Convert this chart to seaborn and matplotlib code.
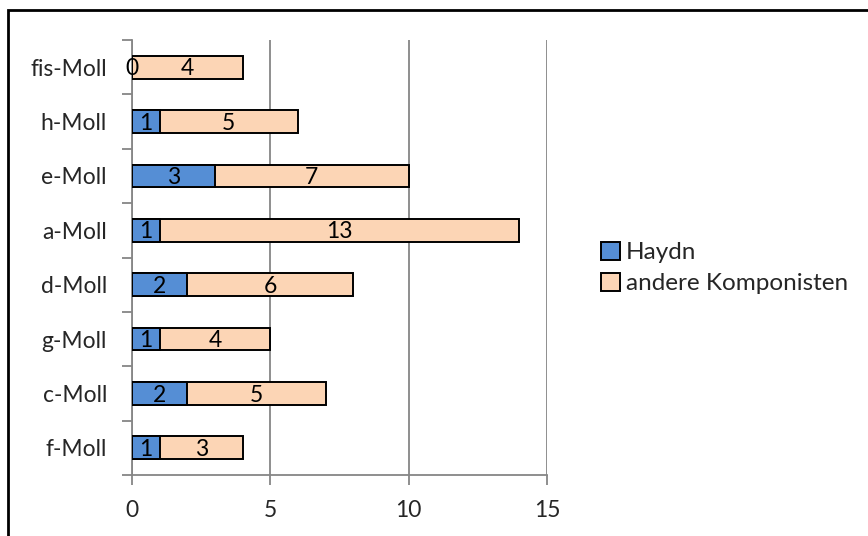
import matplotlib
matplotlib.use("Agg")
import matplotlib.pyplot as plt
from matplotlib.patches import Rectangle, Patch
from matplotlib.ticker import FixedLocator
import numpy as np
import pandas as pd
import seaborn as sns

# Minor keys, listed top to bottom
keys = ["fis-Moll", "h-Moll", "e-Moll", "a-Moll", "d-Moll", "g-Moll", "c-Moll", "f-Moll"]
haydn = [0, 1, 3, 1, 2, 1, 2, 1]
andere = [4, 5, 7, 13, 6, 4, 5, 3]
series_names = ["Haydn", "andere Komponisten"]
x_ticks = [0, 5, 10, 15]

BLUE = "#558ED5"
PEACH = "#FCD5B5"
GRID = "#868686"

sns.set_theme(style="white")
plt.rcParams["font.family"] = ["Lato", "DejaVu Sans"]

df = pd.DataFrame({
    "Tonart": keys,
    "Haydn": haydn,
    "andere": andere,
})
df["gesamt"] = df["Haydn"] + df["andere"]

W, H, DPI = 868, 536, 100
fig = plt.figure(figsize=(W / DPI, H / DPI), dpi=DPI)
ax = fig.add_axes([132 / W, 1 - 475 / H, (547 - 132) / W, (475 - 40) / H])

bar_h = 0.42
sns.barplot(data=df, x="gesamt", y="Tonart", order=keys, color=PEACH,
            edgecolor="black", linewidth=1.4, width=bar_h, saturation=1,
            ax=ax, zorder=3)
sns.barplot(data=df, x="Haydn", y="Tonart", order=keys, color=BLUE,
            edgecolor="black", linewidth=1.4, width=bar_h, saturation=1,
            ax=ax, zorder=4)

# value labels centred in each segment
fs = 16.5
for i, (h, a) in enumerate(zip(haydn, andere)):
    ax.text(h / 2, i + 0.03, str(h), ha="center", va="center", fontsize=fs,
            color="black", zorder=5)
    ax.text(h + a / 2, i + 0.03, str(a), ha="center", va="center", fontsize=fs,
            color="black", zorder=5)

ax.set_xlim(0, 15)
ax.set_ylim(len(keys) - 0.5, -0.5)
ax.set_xlabel("")
ax.set_ylabel("")

ax.xaxis.set_major_locator(FixedLocator(x_ticks))
ax.set_xticklabels([str(t) for t in x_ticks])
ax.grid(axis="x", color=GRID, linewidth=1.3, zorder=0)
ax.grid(axis="y", visible=False)

# category separators as outward ticks on the value axis
ax.yaxis.set_minor_locator(FixedLocator(np.arange(-0.5, len(keys), 1.0)))
ax.tick_params(axis="y", which="major", length=0, labelsize=fs, pad=18)
ax.tick_params(axis="y", which="minor", length=7, width=1.3, color=GRID,
               direction="out", left=True)
ax.tick_params(axis="x", which="major", length=7, width=1.3, color=GRID,
               direction="out", bottom=True, labelsize=fs, pad=11)

for side in ["top", "right"]:
    ax.spines[side].set_visible(False)
for side in ["left", "bottom"]:
    ax.spines[side].set_visible(True)
    ax.spines[side].set_color(GRID)
    ax.spines[side].set_linewidth(1.3)

handles = [Patch(facecolor=BLUE, edgecolor="black", linewidth=1.4),
           Patch(facecolor=PEACH, edgecolor="black", linewidth=1.4)]
fig.legend(handles, series_names, loc="center left",
           bbox_to_anchor=(591 / W, 1 - 268 / H), frameon=False,
           fontsize=17.5, handlelength=0.8, handleheight=0.8,
           handletextpad=0.25, labelspacing=0.38, borderaxespad=0)

# chart frame
fig.patches.append(Rectangle((8 / W, -0.05), 1.0, 1 - 10 / H + 0.05,
                             transform=fig.transFigure, fill=False,
                             edgecolor="black", linewidth=2.0))

fig.savefig("out.png", dpi=DPI)
